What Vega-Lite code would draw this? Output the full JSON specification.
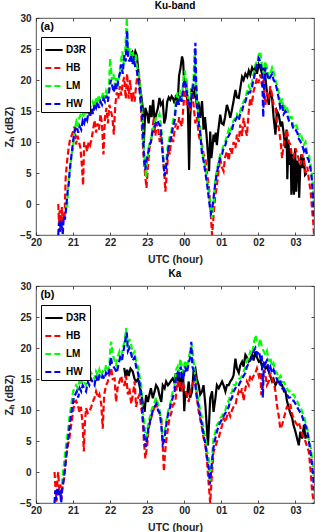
{
"$schema": "https://vega.github.io/schema/vega-lite/v6.json",
"padding": {"left": 4, "top": 0, "right": 5, "bottom": 0},
"background": "white",
"spacing": 3,
"config": {
  "font": "Liberation Sans",
  "view": {"stroke": "#262626", "strokeWidth": 0.8},
  "axis": {"grid": false, "domain": false, "labelFlush": false, "tickSize": -3, "tickColor": "#262626", "tickWidth": 0.8, "labelFont": "Liberation Sans", "labelFontSize": 10, "labelFontWeight": "bold", "labelColor": "#262626", "titleFont": "Liberation Sans", "titleFontSize": 10.5, "titleFontWeight": "bold", "titleColor": "#262626"},
  "axisX": {"labelPadding": 5, "titlePadding": 7},
  "axisY": {"labelPadding": 8, "titlePadding": 5},
  "title": {"font": "Liberation Sans", "fontSize": 10, "fontWeight": "bold", "color": "#000", "offset": 2, "frame": "group"},
  "legend": {"symbolType": "stroke", "symbolSize": 300, "symbolStrokeWidth": 2.2, "labelFont": "Liberation Sans", "labelFontWeight": "bold", "labelFontSize": 10, "labelColor": "#000", "strokeColor": "#000", "fillColor": "#fff", "padding": 3, "rowPadding": 3, "labelOffset": 2},
  "line": {"strokeWidth": 2.2}
},
"resolve": {"scale": {"color": "independent", "strokeDash": "independent"}, "legend": {"color": "independent", "strokeDash": "independent"}},
"datasets": {
"a_D3R": [{"t":22.55,"z":24.0},{"t":22.6,"z":24.5},{"t":22.64,"z":23.5},{"t":22.68,"z":24.6},{"t":22.72,"z":24.0},{"t":22.76,"z":21.5},{"t":22.8,"z":19.2},{"t":22.85,"z":17.0},{"t":22.88,"z":15.5},{"t":22.91,"z":9.8},{"t":22.95,"z":15.5},{"t":23.0,"z":14.5},{"t":23.04,"z":13.0},{"t":23.08,"z":15.9},{"t":23.12,"z":14.0},{"t":23.16,"z":16.8},{"t":23.2,"z":13.4},{"t":23.24,"z":14.4},{"t":23.29,"z":15.5},{"t":23.33,"z":17.1},{"t":23.37,"z":16.0},{"t":23.42,"z":16.5},{"t":23.46,"z":13.0},{"t":23.5,"z":14.0},{"t":23.54,"z":16.5},{"t":23.58,"z":17.2},{"t":23.62,"z":16.8},{"t":23.66,"z":17.4},{"t":23.7,"z":17.0},{"t":23.74,"z":16.2},{"t":23.78,"z":17.6},{"t":23.82,"z":16.0},{"t":23.86,"z":20.7},{"t":23.9,"z":22.0},{"t":23.94,"z":23.8},{"t":23.97,"z":23.0},{"t":24.0,"z":19.2},{"t":24.05,"z":20.0},{"t":24.1,"z":15.0},{"t":24.13,"z":5.5},{"t":24.16,"z":14.0},{"t":24.2,"z":18.7},{"t":24.25,"z":17.0},{"t":24.3,"z":19.0},{"t":24.34,"z":15.5},{"t":24.38,"z":16.5},{"t":24.43,"z":13.9},{"t":24.48,"z":16.6},{"t":24.52,"z":12.0},{"t":24.56,"z":14.0},{"t":24.6,"z":11.2},{"t":24.64,"z":8.0},{"t":24.67,"z":5.3},{"t":24.7,"z":11.7},{"t":24.73,"z":7.4},{"t":24.76,"z":9.0},{"t":24.79,"z":11.2},{"t":24.82,"z":10.0},{"t":24.85,"z":11.5},{"t":24.88,"z":9.5},{"t":24.92,"z":12.0},{"t":24.97,"z":14.4},{"t":25.01,"z":13.0},{"t":25.06,"z":12.8},{"t":25.1,"z":14.0},{"t":25.15,"z":16.0},{"t":25.2,"z":15.0},{"t":25.24,"z":13.9},{"t":25.28,"z":15.0},{"t":25.33,"z":16.6},{"t":25.38,"z":18.4},{"t":25.42,"z":17.2},{"t":25.47,"z":17.1},{"t":25.52,"z":19.0},{"t":25.56,"z":20.5},{"t":25.6,"z":20.0},{"t":25.65,"z":21.0},{"t":25.7,"z":20.5},{"t":25.74,"z":21.5},{"t":25.78,"z":20.8},{"t":25.83,"z":22.0},{"t":25.87,"z":21.5},{"t":25.92,"z":22.0},{"t":25.96,"z":21.0},{"t":26.01,"z":22.5},{"t":26.05,"z":22.0},{"t":26.1,"z":21.0},{"t":26.14,"z":22.0},{"t":26.19,"z":20.3},{"t":26.23,"z":18.0},{"t":26.28,"z":16.0},{"t":26.32,"z":18.5},{"t":26.37,"z":17.0},{"t":26.41,"z":14.0},{"t":26.46,"z":11.2},{"t":26.5,"z":15.0},{"t":26.55,"z":14.4},{"t":26.6,"z":12.5},{"t":26.64,"z":13.3},{"t":26.69,"z":11.0},{"t":26.73,"z":9.0},{"t":26.76,"z":12.0},{"t":26.78,"z":4.0},{"t":26.81,"z":10.0},{"t":26.84,"z":6.3},{"t":26.87,"z":9.0},{"t":26.89,"z":1.5},{"t":26.92,"z":8.0},{"t":26.94,"z":4.0},{"t":26.96,"z":1.5},{"t":26.99,"z":9.0},{"t":27.02,"z":2.0},{"t":27.05,"z":7.0},{"t":27.08,"z":6.0},{"t":27.1,"z":1.0},{"t":27.13,"z":6.0},{"t":27.16,"z":8.0},{"t":27.19,"z":5.8},{"t":27.22,"z":7.5},{"t":27.26,"z":4.7},{"t":27.3,"z":5.0}],
"a_HB": [{"t":20.6,"z":0.0},{"t":20.62,"z":-3.0},{"t":20.64,"z":-1.0},{"t":20.66,"z":-4.5},{"t":20.68,"z":-2.0},{"t":20.7,"z":-0.5},{"t":20.72,"z":-3.5},{"t":20.74,"z":-1.5},{"t":20.77,"z":-2.5},{"t":20.8,"z":4.2},{"t":20.84,"z":7.0},{"t":20.88,"z":9.0},{"t":20.92,"z":10.5},{"t":20.96,"z":11.0},{"t":21.0,"z":11.7},{"t":21.04,"z":12.5},{"t":21.08,"z":9.6},{"t":21.12,"z":11.0},{"t":21.16,"z":10.0},{"t":21.2,"z":9.0},{"t":21.24,"z":6.0},{"t":21.27,"z":3.0},{"t":21.3,"z":10.0},{"t":21.34,"z":9.5},{"t":21.38,"z":8.5},{"t":21.42,"z":10.0},{"t":21.46,"z":9.5},{"t":21.5,"z":10.5},{"t":21.54,"z":12.0},{"t":21.58,"z":13.5},{"t":21.62,"z":11.5},{"t":21.66,"z":13.0},{"t":21.7,"z":12.0},{"t":21.74,"z":14.5},{"t":21.78,"z":13.0},{"t":21.82,"z":8.0},{"t":21.86,"z":14.0},{"t":21.9,"z":15.5},{"t":21.94,"z":13.0},{"t":21.98,"z":16.0},{"t":22.02,"z":15.0},{"t":22.06,"z":14.0},{"t":22.1,"z":11.2},{"t":22.14,"z":16.0},{"t":22.18,"z":18.0},{"t":22.22,"z":17.0},{"t":22.26,"z":19.0},{"t":22.3,"z":17.5},{"t":22.34,"z":19.5},{"t":22.38,"z":20.5},{"t":22.42,"z":17.0},{"t":22.46,"z":21.0},{"t":22.5,"z":17.0},{"t":22.54,"z":20.0},{"t":22.58,"z":16.5},{"t":22.62,"z":18.0},{"t":22.66,"z":16.5},{"t":22.7,"z":19.0},{"t":22.74,"z":21.0},{"t":22.78,"z":20.9},{"t":22.82,"z":17.0},{"t":22.86,"z":12.0},{"t":22.9,"z":8.0},{"t":22.94,"z":5.0},{"t":22.98,"z":2.6},{"t":23.02,"z":6.0},{"t":23.06,"z":9.0},{"t":23.1,"z":10.0},{"t":23.14,"z":12.0},{"t":23.18,"z":14.0},{"t":23.22,"z":11.0},{"t":23.26,"z":13.0},{"t":23.3,"z":12.0},{"t":23.34,"z":10.0},{"t":23.38,"z":11.5},{"t":23.42,"z":8.0},{"t":23.46,"z":5.0},{"t":23.49,"z":2.0},{"t":23.53,"z":5.0},{"t":23.57,"z":9.0},{"t":23.61,"z":8.0},{"t":23.65,"z":11.0},{"t":23.7,"z":10.0},{"t":23.74,"z":12.0},{"t":23.78,"z":13.0},{"t":23.82,"z":12.0},{"t":23.86,"z":14.0},{"t":23.9,"z":13.0},{"t":23.94,"z":12.5},{"t":23.98,"z":16.0},{"t":24.03,"z":19.2},{"t":24.07,"z":16.0},{"t":24.12,"z":17.0},{"t":24.16,"z":15.0},{"t":24.21,"z":18.2},{"t":24.25,"z":16.0},{"t":24.3,"z":13.0},{"t":24.34,"z":14.0},{"t":24.39,"z":11.2},{"t":24.43,"z":10.0},{"t":24.48,"z":9.6},{"t":24.52,"z":8.0},{"t":24.57,"z":7.4},{"t":24.61,"z":5.0},{"t":24.66,"z":3.1},{"t":24.7,"z":-0.1},{"t":24.73,"z":-3.0},{"t":24.75,"z":-5.0},{"t":24.79,"z":-2.0},{"t":24.83,"z":1.0},{"t":24.88,"z":3.0},{"t":24.92,"z":5.0},{"t":24.97,"z":7.4},{"t":25.01,"z":6.0},{"t":25.06,"z":5.3},{"t":25.1,"z":7.5},{"t":25.15,"z":8.5},{"t":25.2,"z":7.0},{"t":25.24,"z":9.0},{"t":25.28,"z":8.0},{"t":25.33,"z":10.0},{"t":25.38,"z":9.0},{"t":25.42,"z":11.2},{"t":25.47,"z":10.0},{"t":25.51,"z":12.8},{"t":25.56,"z":11.0},{"t":25.6,"z":13.9},{"t":25.65,"z":12.0},{"t":25.69,"z":11.0},{"t":25.74,"z":15.0},{"t":25.78,"z":17.1},{"t":25.82,"z":16.0},{"t":25.87,"z":18.2},{"t":25.91,"z":19.0},{"t":25.96,"z":20.3},{"t":26.0,"z":19.5},{"t":26.05,"z":20.9},{"t":26.1,"z":19.0},{"t":26.14,"z":20.0},{"t":26.19,"z":16.0},{"t":26.23,"z":18.0},{"t":26.28,"z":17.0},{"t":26.32,"z":19.0},{"t":26.37,"z":17.6},{"t":26.41,"z":16.0},{"t":26.46,"z":15.5},{"t":26.5,"z":13.0},{"t":26.55,"z":12.3},{"t":26.6,"z":10.0},{"t":26.64,"z":7.4},{"t":26.68,"z":9.5},{"t":26.73,"z":11.0},{"t":26.77,"z":12.0},{"t":26.82,"z":10.0},{"t":26.86,"z":9.6},{"t":26.9,"z":8.0},{"t":26.95,"z":7.5},{"t":27.0,"z":9.0},{"t":27.05,"z":8.0},{"t":27.1,"z":7.0},{"t":27.14,"z":6.3},{"t":27.18,"z":8.0},{"t":27.23,"z":7.0},{"t":27.27,"z":5.0},{"t":27.32,"z":6.0},{"t":27.36,"z":4.0},{"t":27.41,"z":2.0},{"t":27.45,"z":-1.0},{"t":27.48,"z":-3.0},{"t":27.5,"z":-5.0}],
"a_LM": [{"t":20.8,"z":-1.0},{"t":20.82,"z":0.0},{"t":20.84,"z":-0.5},{"t":20.86,"z":2.0},{"t":20.88,"z":4.0},{"t":20.9,"z":4.5},{"t":20.93,"z":6.3},{"t":20.96,"z":8.0},{"t":21.0,"z":9.0},{"t":21.03,"z":11.7},{"t":21.06,"z":12.5},{"t":21.09,"z":13.3},{"t":21.13,"z":12.5},{"t":21.17,"z":13.9},{"t":21.21,"z":14.5},{"t":21.25,"z":15.0},{"t":21.29,"z":14.0},{"t":21.33,"z":15.5},{"t":21.37,"z":14.5},{"t":21.41,"z":16.6},{"t":21.45,"z":15.0},{"t":21.49,"z":16.0},{"t":21.53,"z":16.5},{"t":21.57,"z":15.5},{"t":21.61,"z":17.1},{"t":21.65,"z":16.0},{"t":21.69,"z":17.6},{"t":21.73,"z":16.5},{"t":21.77,"z":17.0},{"t":21.81,"z":18.0},{"t":21.85,"z":17.0},{"t":21.89,"z":18.2},{"t":21.93,"z":17.5},{"t":21.97,"z":19.2},{"t":22.0,"z":23.5},{"t":22.02,"z":22.0},{"t":22.05,"z":20.0},{"t":22.09,"z":21.0},{"t":22.13,"z":19.0},{"t":22.17,"z":20.3},{"t":22.21,"z":19.0},{"t":22.25,"z":20.9},{"t":22.29,"z":23.0},{"t":22.33,"z":24.6},{"t":22.37,"z":22.5},{"t":22.41,"z":25.0},{"t":22.45,"z":30.0},{"t":22.47,"z":25.0},{"t":22.5,"z":24.1},{"t":22.53,"z":25.2},{"t":22.57,"z":23.0},{"t":22.61,"z":24.5},{"t":22.65,"z":23.0},{"t":22.69,"z":24.1},{"t":22.73,"z":22.0},{"t":22.77,"z":21.0},{"t":22.8,"z":19.2},{"t":22.84,"z":16.6},{"t":22.88,"z":13.9},{"t":22.91,"z":9.0},{"t":22.94,"z":6.9},{"t":22.97,"z":4.2},{"t":23.0,"z":7.0},{"t":23.03,"z":8.5},{"t":23.07,"z":10.0},{"t":23.11,"z":10.6},{"t":23.15,"z":12.0},{"t":23.2,"z":12.8},{"t":23.24,"z":14.0},{"t":23.29,"z":13.9},{"t":23.33,"z":14.5},{"t":23.38,"z":12.3},{"t":23.42,"z":8.5},{"t":23.46,"z":5.3},{"t":23.5,"z":6.3},{"t":23.53,"z":8.0},{"t":23.56,"z":9.6},{"t":23.61,"z":11.0},{"t":23.65,"z":11.7},{"t":23.7,"z":13.5},{"t":23.74,"z":14.4},{"t":23.78,"z":17.0},{"t":23.82,"z":18.0},{"t":23.86,"z":17.0},{"t":23.9,"z":18.0},{"t":23.94,"z":17.5},{"t":23.98,"z":20.3},{"t":24.02,"z":21.5},{"t":24.07,"z":19.0},{"t":24.11,"z":17.0},{"t":24.16,"z":16.6},{"t":24.2,"z":18.5},{"t":24.25,"z":20.0},{"t":24.28,"z":25.0},{"t":24.31,"z":19.0},{"t":24.34,"z":17.0},{"t":24.38,"z":14.0},{"t":24.43,"z":12.3},{"t":24.48,"z":8.5},{"t":24.52,"z":7.5},{"t":24.57,"z":5.8},{"t":24.61,"z":4.0},{"t":24.66,"z":2.0},{"t":24.7,"z":0.0},{"t":24.73,"z":-1.0},{"t":24.75,"z":-2.3},{"t":24.79,"z":0.0},{"t":24.84,"z":4.2},{"t":24.88,"z":5.5},{"t":24.93,"z":6.9},{"t":24.97,"z":8.0},{"t":25.02,"z":8.5},{"t":25.06,"z":9.5},{"t":25.11,"z":10.1},{"t":25.15,"z":11.0},{"t":25.2,"z":12.0},{"t":25.24,"z":11.5},{"t":25.29,"z":12.8},{"t":25.33,"z":13.5},{"t":25.38,"z":13.9},{"t":25.42,"z":14.5},{"t":25.47,"z":14.0},{"t":25.51,"z":15.0},{"t":25.56,"z":16.0},{"t":25.6,"z":16.5},{"t":25.65,"z":17.1},{"t":25.69,"z":18.0},{"t":25.74,"z":19.0},{"t":25.78,"z":18.5},{"t":25.83,"z":19.8},{"t":25.87,"z":21.0},{"t":25.92,"z":22.5},{"t":25.96,"z":23.0},{"t":26.01,"z":24.1},{"t":26.05,"z":24.6},{"t":26.1,"z":22.0},{"t":26.14,"z":21.0},{"t":26.19,"z":23.0},{"t":26.23,"z":22.0},{"t":26.28,"z":20.5},{"t":26.32,"z":21.0},{"t":26.37,"z":22.0},{"t":26.41,"z":21.4},{"t":26.46,"z":20.0},{"t":26.5,"z":19.2},{"t":26.55,"z":18.0},{"t":26.59,"z":16.0},{"t":26.64,"z":17.0},{"t":26.68,"z":15.0},{"t":26.73,"z":16.0},{"t":26.77,"z":15.5},{"t":26.82,"z":14.5},{"t":26.86,"z":13.9},{"t":26.9,"z":14.0},{"t":26.95,"z":12.5},{"t":27.0,"z":13.0},{"t":27.05,"z":12.3},{"t":27.09,"z":11.0},{"t":27.14,"z":11.5},{"t":27.18,"z":10.5},{"t":27.23,"z":9.6},{"t":27.27,"z":10.0},{"t":27.32,"z":8.0},{"t":27.36,"z":8.0},{"t":27.41,"z":6.3},{"t":27.44,"z":5.0},{"t":27.47,"z":3.1},{"t":27.5,"z":-0.1}],
"a_HW": [{"t":20.6,"z":-5.0},{"t":20.62,"z":-3.0},{"t":20.64,"z":-4.5},{"t":20.66,"z":-2.5},{"t":20.68,"z":-4.0},{"t":20.7,"z":-3.0},{"t":20.72,"z":-5.0},{"t":20.75,"z":-2.0},{"t":20.78,"z":-2.5},{"t":20.8,"z":-1.5},{"t":20.83,"z":0.5},{"t":20.86,"z":2.5},{"t":20.88,"z":3.0},{"t":20.91,"z":5.5},{"t":20.94,"z":7.0},{"t":20.97,"z":8.5},{"t":21.0,"z":10.0},{"t":21.03,"z":11.5},{"t":21.06,"z":12.0},{"t":21.1,"z":12.5},{"t":21.14,"z":11.5},{"t":21.18,"z":12.5},{"t":21.22,"z":12.0},{"t":21.26,"z":13.5},{"t":21.3,"z":13.0},{"t":21.34,"z":14.0},{"t":21.38,"z":13.5},{"t":21.42,"z":15.0},{"t":21.46,"z":14.0},{"t":21.5,"z":15.5},{"t":21.54,"z":14.5},{"t":21.58,"z":16.0},{"t":21.62,"z":15.5},{"t":21.66,"z":16.5},{"t":21.7,"z":15.5},{"t":21.74,"z":16.5},{"t":21.78,"z":16.0},{"t":21.82,"z":17.0},{"t":21.86,"z":16.5},{"t":21.9,"z":17.5},{"t":21.94,"z":16.5},{"t":21.98,"z":18.5},{"t":22.02,"z":20.0},{"t":22.06,"z":19.0},{"t":22.1,"z":18.0},{"t":22.14,"z":19.5},{"t":22.18,"z":18.5},{"t":22.22,"z":20.0},{"t":22.26,"z":21.0},{"t":22.3,"z":22.5},{"t":22.34,"z":21.0},{"t":22.38,"z":24.0},{"t":22.42,"z":23.0},{"t":22.46,"z":28.0},{"t":22.48,"z":24.0},{"t":22.52,"z":23.0},{"t":22.56,"z":24.0},{"t":22.6,"z":22.5},{"t":22.64,"z":23.5},{"t":22.68,"z":22.0},{"t":22.72,"z":21.5},{"t":22.76,"z":20.0},{"t":22.8,"z":18.0},{"t":22.84,"z":15.5},{"t":22.88,"z":12.5},{"t":22.91,"z":8.0},{"t":22.95,"z":5.5},{"t":22.98,"z":7.0},{"t":23.02,"z":8.0},{"t":23.06,"z":9.5},{"t":23.1,"z":10.0},{"t":23.14,"z":11.5},{"t":23.18,"z":12.0},{"t":23.23,"z":13.0},{"t":23.27,"z":13.5},{"t":23.31,"z":13.0},{"t":23.36,"z":12.5},{"t":23.4,"z":9.5},{"t":23.44,"z":6.5},{"t":23.47,"z":4.5},{"t":23.5,"z":5.5},{"t":23.53,"z":7.0},{"t":23.57,"z":9.0},{"t":23.61,"z":10.0},{"t":23.65,"z":11.0},{"t":23.7,"z":12.5},{"t":23.74,"z":13.5},{"t":23.78,"z":16.0},{"t":23.82,"z":17.0},{"t":23.86,"z":16.0},{"t":23.9,"z":17.5},{"t":23.94,"z":16.5},{"t":23.98,"z":19.5},{"t":24.02,"z":20.0},{"t":24.07,"z":18.0},{"t":24.11,"z":16.5},{"t":24.16,"z":15.5},{"t":24.2,"z":17.5},{"t":24.24,"z":19.0},{"t":24.28,"z":21.0},{"t":24.3,"z":26.0},{"t":24.32,"z":20.0},{"t":24.35,"z":16.0},{"t":24.39,"z":13.0},{"t":24.43,"z":11.5},{"t":24.48,"z":8.0},{"t":24.52,"z":7.0},{"t":24.57,"z":5.0},{"t":24.61,"z":3.5},{"t":24.65,"z":1.5},{"t":24.69,"z":-0.5},{"t":24.72,"z":-1.5},{"t":24.75,"z":-1.0},{"t":24.79,"z":1.0},{"t":24.84,"z":3.5},{"t":24.88,"z":5.0},{"t":24.93,"z":6.5},{"t":24.97,"z":7.5},{"t":25.02,"z":8.0},{"t":25.06,"z":9.0},{"t":25.11,"z":9.5},{"t":25.15,"z":10.5},{"t":25.2,"z":11.0},{"t":25.24,"z":11.5},{"t":25.29,"z":12.0},{"t":25.33,"z":13.0},{"t":25.38,"z":13.5},{"t":25.42,"z":14.0},{"t":25.47,"z":13.5},{"t":25.51,"z":14.5},{"t":25.56,"z":15.0},{"t":25.6,"z":16.0},{"t":25.65,"z":16.5},{"t":25.69,"z":17.5},{"t":25.74,"z":18.0},{"t":25.78,"z":18.0},{"t":25.83,"z":19.0},{"t":25.87,"z":20.0},{"t":25.92,"z":21.5},{"t":25.96,"z":22.5},{"t":26.01,"z":23.5},{"t":26.05,"z":23.0},{"t":26.1,"z":21.5},{"t":26.13,"z":14.0},{"t":26.16,"z":20.0},{"t":26.19,"z":22.0},{"t":26.23,"z":21.0},{"t":26.28,"z":20.0},{"t":26.32,"z":20.5},{"t":26.37,"z":21.0},{"t":26.41,"z":20.0},{"t":26.46,"z":19.5},{"t":26.5,"z":18.5},{"t":26.55,"z":17.0},{"t":26.59,"z":15.5},{"t":26.64,"z":16.0},{"t":26.68,"z":14.5},{"t":26.73,"z":15.0},{"t":26.77,"z":14.5},{"t":26.82,"z":13.5},{"t":26.86,"z":13.0},{"t":26.9,"z":13.0},{"t":26.95,"z":12.0},{"t":27.0,"z":12.0},{"t":27.05,"z":11.5},{"t":27.09,"z":10.5},{"t":27.14,"z":10.0},{"t":27.18,"z":9.5},{"t":27.23,"z":8.5},{"t":27.27,"z":9.0},{"t":27.32,"z":7.5},{"t":27.36,"z":7.0},{"t":27.41,"z":5.5},{"t":27.44,"z":4.0},{"t":27.47,"z":1.5},{"t":27.5,"z":-2.0}],
"b_D3R": [{"t":22.38,"z":16.8},{"t":22.42,"z":15.2},{"t":22.46,"z":16.5},{"t":22.5,"z":15.5},{"t":22.55,"z":16.7},{"t":22.61,"z":16.2},{"t":22.66,"z":15.0},{"t":22.7,"z":14.6},{"t":22.75,"z":15.0},{"t":22.79,"z":14.0},{"t":22.84,"z":12.5},{"t":22.88,"z":11.3},{"t":22.93,"z":9.7},{"t":22.97,"z":12.4},{"t":23.02,"z":11.3},{"t":23.06,"z":12.5},{"t":23.1,"z":13.5},{"t":23.15,"z":11.9},{"t":23.2,"z":13.0},{"t":23.24,"z":14.0},{"t":23.29,"z":13.5},{"t":23.33,"z":12.4},{"t":23.38,"z":11.3},{"t":23.42,"z":14.0},{"t":23.47,"z":13.5},{"t":23.51,"z":14.6},{"t":23.56,"z":14.0},{"t":23.6,"z":14.3},{"t":23.65,"z":14.8},{"t":23.69,"z":15.1},{"t":23.73,"z":14.5},{"t":23.77,"z":15.9},{"t":23.81,"z":15.0},{"t":23.85,"z":15.8},{"t":23.89,"z":13.0},{"t":23.94,"z":16.2},{"t":23.97,"z":15.5},{"t":24.0,"z":9.8},{"t":24.03,"z":13.0},{"t":24.07,"z":12.0},{"t":24.12,"z":14.6},{"t":24.16,"z":12.0},{"t":24.21,"z":13.0},{"t":24.25,"z":16.2},{"t":24.3,"z":16.7},{"t":24.34,"z":15.0},{"t":24.39,"z":14.0},{"t":24.43,"z":12.5},{"t":24.48,"z":13.0},{"t":24.52,"z":14.0},{"t":24.57,"z":10.8},{"t":24.61,"z":7.0},{"t":24.64,"z":4.3},{"t":24.67,"z":8.0},{"t":24.7,"z":11.9},{"t":24.75,"z":13.0},{"t":24.79,"z":9.7},{"t":24.84,"z":11.9},{"t":24.88,"z":14.0},{"t":24.93,"z":13.5},{"t":24.97,"z":14.0},{"t":25.02,"z":14.6},{"t":25.06,"z":14.0},{"t":25.11,"z":13.0},{"t":25.15,"z":14.0},{"t":25.2,"z":14.0},{"t":25.24,"z":14.6},{"t":25.29,"z":15.0},{"t":25.33,"z":15.6},{"t":25.38,"z":18.3},{"t":25.42,"z":16.7},{"t":25.47,"z":16.0},{"t":25.51,"z":17.2},{"t":25.56,"z":17.8},{"t":25.6,"z":17.0},{"t":25.65,"z":18.9},{"t":25.69,"z":18.5},{"t":25.74,"z":17.8},{"t":25.78,"z":18.2},{"t":25.83,"z":18.9},{"t":25.87,"z":18.0},{"t":25.92,"z":19.4},{"t":25.96,"z":18.5},{"t":26.01,"z":17.8},{"t":26.05,"z":18.0},{"t":26.1,"z":17.0},{"t":26.14,"z":17.5},{"t":26.19,"z":16.7},{"t":26.23,"z":17.0},{"t":26.28,"z":16.2},{"t":26.32,"z":15.5},{"t":26.37,"z":14.6},{"t":26.41,"z":15.0},{"t":26.46,"z":14.0},{"t":26.5,"z":14.5},{"t":26.55,"z":14.6},{"t":26.6,"z":14.0},{"t":26.64,"z":14.0},{"t":26.69,"z":13.0},{"t":26.73,"z":13.0},{"t":26.77,"z":11.5},{"t":26.82,"z":10.3},{"t":26.86,"z":9.5},{"t":26.91,"z":8.7},{"t":26.95,"z":7.5},{"t":27.0,"z":6.5},{"t":27.04,"z":5.5},{"t":27.09,"z":4.3},{"t":27.13,"z":6.5},{"t":27.18,"z":5.4},{"t":27.23,"z":7.6},{"t":27.27,"z":5.4},{"t":27.3,"z":6.0}],
"b_HB": [{"t":20.5,"z":0.0},{"t":20.52,"z":-2.0},{"t":20.55,"z":-4.8},{"t":20.58,"z":-1.0},{"t":20.6,"z":0.0},{"t":20.63,"z":-3.0},{"t":20.66,"z":-2.0},{"t":20.68,"z":-4.5},{"t":20.72,"z":-2.0},{"t":20.76,"z":-1.0},{"t":20.81,"z":2.2},{"t":20.86,"z":4.3},{"t":20.9,"z":5.4},{"t":20.95,"z":7.6},{"t":21.0,"z":9.7},{"t":21.04,"z":11.3},{"t":21.08,"z":11.5},{"t":21.13,"z":10.8},{"t":21.17,"z":9.7},{"t":21.21,"z":10.5},{"t":21.26,"z":7.6},{"t":21.29,"z":3.3},{"t":21.32,"z":8.0},{"t":21.35,"z":10.3},{"t":21.4,"z":9.5},{"t":21.44,"z":9.7},{"t":21.49,"z":10.5},{"t":21.53,"z":11.3},{"t":21.58,"z":12.0},{"t":21.62,"z":13.0},{"t":21.67,"z":12.0},{"t":21.71,"z":12.5},{"t":21.76,"z":11.0},{"t":21.8,"z":7.0},{"t":21.84,"z":12.5},{"t":21.89,"z":14.0},{"t":21.93,"z":14.5},{"t":21.98,"z":15.6},{"t":22.03,"z":16.7},{"t":22.07,"z":15.0},{"t":22.12,"z":15.1},{"t":22.16,"z":11.3},{"t":22.2,"z":13.5},{"t":22.25,"z":14.6},{"t":22.3,"z":15.5},{"t":22.34,"z":14.0},{"t":22.39,"z":14.0},{"t":22.43,"z":15.5},{"t":22.48,"z":12.5},{"t":22.52,"z":13.5},{"t":22.57,"z":11.0},{"t":22.61,"z":12.4},{"t":22.66,"z":14.6},{"t":22.7,"z":10.5},{"t":22.75,"z":11.9},{"t":22.79,"z":12.5},{"t":22.84,"z":10.3},{"t":22.88,"z":8.7},{"t":22.91,"z":4.9},{"t":22.95,"z":2.2},{"t":23.0,"z":4.3},{"t":23.03,"z":6.5},{"t":23.06,"z":7.6},{"t":23.1,"z":8.5},{"t":23.15,"z":9.7},{"t":23.2,"z":10.5},{"t":23.24,"z":11.3},{"t":23.29,"z":10.0},{"t":23.33,"z":9.5},{"t":23.38,"z":8.7},{"t":23.42,"z":4.3},{"t":23.45,"z":0.1},{"t":23.48,"z":3.0},{"t":23.51,"z":4.9},{"t":23.56,"z":7.0},{"t":23.6,"z":8.7},{"t":23.65,"z":9.5},{"t":23.69,"z":10.8},{"t":23.73,"z":11.0},{"t":23.77,"z":11.9},{"t":23.81,"z":14.6},{"t":23.85,"z":13.5},{"t":23.9,"z":14.5},{"t":23.94,"z":13.0},{"t":23.98,"z":14.0},{"t":24.03,"z":13.0},{"t":24.07,"z":12.5},{"t":24.12,"z":11.3},{"t":24.16,"z":13.0},{"t":24.21,"z":14.0},{"t":24.25,"z":14.5},{"t":24.3,"z":15.6},{"t":24.34,"z":12.0},{"t":24.39,"z":9.7},{"t":24.43,"z":8.5},{"t":24.48,"z":7.0},{"t":24.52,"z":5.5},{"t":24.57,"z":4.3},{"t":24.61,"z":2.2},{"t":24.64,"z":-0.5},{"t":24.66,"z":-2.0},{"t":24.7,"z":-5.0},{"t":24.74,"z":-1.0},{"t":24.79,"z":3.3},{"t":24.84,"z":4.0},{"t":24.88,"z":4.9},{"t":24.93,"z":5.5},{"t":24.97,"z":6.5},{"t":25.02,"z":7.5},{"t":25.06,"z":8.7},{"t":25.11,"z":8.0},{"t":25.15,"z":9.0},{"t":25.2,"z":9.7},{"t":25.24,"z":9.0},{"t":25.29,"z":10.0},{"t":25.33,"z":10.5},{"t":25.38,"z":10.8},{"t":25.42,"z":12.0},{"t":25.47,"z":13.0},{"t":25.51,"z":12.5},{"t":25.56,"z":13.5},{"t":25.6,"z":11.5},{"t":25.65,"z":13.5},{"t":25.69,"z":14.6},{"t":25.74,"z":14.0},{"t":25.78,"z":15.6},{"t":25.83,"z":15.0},{"t":25.87,"z":15.5},{"t":25.92,"z":16.0},{"t":25.96,"z":16.7},{"t":26.01,"z":15.5},{"t":26.05,"z":16.2},{"t":26.08,"z":12.4},{"t":26.12,"z":15.0},{"t":26.16,"z":16.5},{"t":26.19,"z":15.6},{"t":26.23,"z":14.0},{"t":26.28,"z":14.6},{"t":26.32,"z":16.0},{"t":26.37,"z":15.0},{"t":26.41,"z":14.5},{"t":26.46,"z":13.0},{"t":26.5,"z":10.8},{"t":26.55,"z":9.0},{"t":26.59,"z":7.0},{"t":26.64,"z":7.6},{"t":26.68,"z":8.5},{"t":26.73,"z":9.7},{"t":26.77,"z":10.5},{"t":26.82,"z":10.3},{"t":26.86,"z":11.0},{"t":26.9,"z":9.5},{"t":26.95,"z":8.7},{"t":27.0,"z":8.0},{"t":27.05,"z":7.6},{"t":27.09,"z":8.0},{"t":27.14,"z":7.0},{"t":27.18,"z":6.0},{"t":27.23,"z":5.5},{"t":27.27,"z":4.9},{"t":27.32,"z":4.0},{"t":27.36,"z":3.3},{"t":27.41,"z":0.1},{"t":27.45,"z":-3.2},{"t":27.5,"z":-5.0}],
"b_LM": [{"t":20.7,"z":-2.0},{"t":20.73,"z":0.0},{"t":20.77,"z":2.2},{"t":20.81,"z":4.3},{"t":20.86,"z":6.5},{"t":20.9,"z":8.7},{"t":20.95,"z":10.8},{"t":21.0,"z":13.0},{"t":21.04,"z":13.5},{"t":21.08,"z":14.0},{"t":21.13,"z":13.5},{"t":21.17,"z":14.6},{"t":21.21,"z":14.0},{"t":21.26,"z":15.1},{"t":21.3,"z":14.5},{"t":21.35,"z":14.0},{"t":21.4,"z":15.5},{"t":21.44,"z":15.1},{"t":21.49,"z":16.0},{"t":21.53,"z":15.6},{"t":21.58,"z":15.0},{"t":21.62,"z":16.2},{"t":21.67,"z":15.5},{"t":21.71,"z":16.5},{"t":21.76,"z":15.5},{"t":21.8,"z":16.2},{"t":21.85,"z":16.0},{"t":21.89,"z":17.3},{"t":21.94,"z":16.5},{"t":21.98,"z":17.3},{"t":22.01,"z":20.5},{"t":22.03,"z":21.0},{"t":22.07,"z":18.9},{"t":22.12,"z":18.0},{"t":22.16,"z":17.3},{"t":22.2,"z":18.5},{"t":22.25,"z":19.4},{"t":22.3,"z":18.0},{"t":22.34,"z":20.0},{"t":22.39,"z":21.0},{"t":22.43,"z":23.2},{"t":22.46,"z":20.5},{"t":22.48,"z":20.0},{"t":22.52,"z":21.5},{"t":22.57,"z":20.5},{"t":22.61,"z":19.0},{"t":22.66,"z":19.4},{"t":22.7,"z":17.8},{"t":22.75,"z":17.0},{"t":22.79,"z":15.6},{"t":22.84,"z":14.0},{"t":22.88,"z":9.7},{"t":22.93,"z":7.6},{"t":22.97,"z":4.9},{"t":23.0,"z":6.0},{"t":23.02,"z":7.6},{"t":23.06,"z":8.5},{"t":23.1,"z":9.7},{"t":23.15,"z":10.5},{"t":23.2,"z":11.3},{"t":23.24,"z":12.0},{"t":23.29,"z":11.0},{"t":23.33,"z":10.0},{"t":23.38,"z":8.7},{"t":23.42,"z":5.4},{"t":23.46,"z":6.0},{"t":23.51,"z":8.0},{"t":23.56,"z":9.7},{"t":23.6,"z":10.5},{"t":23.65,"z":11.9},{"t":23.69,"z":13.0},{"t":23.74,"z":14.0},{"t":23.78,"z":16.5},{"t":23.82,"z":17.0},{"t":23.86,"z":16.0},{"t":23.89,"z":18.3},{"t":23.94,"z":17.0},{"t":23.98,"z":16.0},{"t":24.02,"z":18.0},{"t":24.07,"z":16.7},{"t":24.12,"z":18.5},{"t":24.16,"z":19.4},{"t":24.21,"z":20.5},{"t":24.25,"z":18.0},{"t":24.3,"z":15.1},{"t":24.34,"z":13.0},{"t":24.39,"z":11.3},{"t":24.43,"z":10.0},{"t":24.48,"z":8.7},{"t":24.52,"z":7.0},{"t":24.57,"z":5.4},{"t":24.61,"z":3.5},{"t":24.66,"z":2.2},{"t":24.7,"z":-1.6},{"t":24.74,"z":1.5},{"t":24.79,"z":5.4},{"t":24.84,"z":6.5},{"t":24.88,"z":7.6},{"t":24.93,"z":8.0},{"t":24.97,"z":8.7},{"t":25.02,"z":9.0},{"t":25.06,"z":9.7},{"t":25.11,"z":10.0},{"t":25.15,"z":10.8},{"t":25.2,"z":11.5},{"t":25.24,"z":12.4},{"t":25.29,"z":13.0},{"t":25.33,"z":14.0},{"t":25.38,"z":14.0},{"t":25.42,"z":14.6},{"t":25.47,"z":15.0},{"t":25.51,"z":15.1},{"t":25.56,"z":15.5},{"t":25.6,"z":16.2},{"t":25.65,"z":17.0},{"t":25.69,"z":17.8},{"t":25.74,"z":18.5},{"t":25.78,"z":19.4},{"t":25.83,"z":19.0},{"t":25.87,"z":20.5},{"t":25.92,"z":22.1},{"t":25.96,"z":21.0},{"t":26.01,"z":20.5},{"t":26.05,"z":21.5},{"t":26.1,"z":20.0},{"t":26.14,"z":19.5},{"t":26.19,"z":18.9},{"t":26.23,"z":19.5},{"t":26.28,"z":17.8},{"t":26.32,"z":18.5},{"t":26.37,"z":17.0},{"t":26.41,"z":17.5},{"t":26.46,"z":16.2},{"t":26.5,"z":16.0},{"t":26.55,"z":15.1},{"t":26.6,"z":15.5},{"t":26.64,"z":14.5},{"t":26.69,"z":14.5},{"t":26.73,"z":14.0},{"t":26.77,"z":13.5},{"t":26.82,"z":13.0},{"t":26.86,"z":13.0},{"t":26.91,"z":12.5},{"t":26.95,"z":12.5},{"t":27.0,"z":11.9},{"t":27.04,"z":11.5},{"t":27.09,"z":10.8},{"t":27.14,"z":10.5},{"t":27.18,"z":9.7},{"t":27.23,"z":9.0},{"t":27.27,"z":8.1},{"t":27.32,"z":7.0},{"t":27.36,"z":5.4},{"t":27.41,"z":4.0},{"t":27.45,"z":2.2},{"t":27.48,"z":0.5},{"t":27.5,"z":-1.0}],
"b_HW": [{"t":20.5,"z":-5.0},{"t":20.52,"z":-3.0},{"t":20.55,"z":-4.5},{"t":20.58,"z":-2.5},{"t":20.62,"z":-4.0},{"t":20.65,"z":-3.0},{"t":20.68,"z":-5.0},{"t":20.7,"z":-3.0},{"t":20.73,"z":-2.0},{"t":20.76,"z":-0.5},{"t":20.79,"z":1.0},{"t":20.82,"z":3.0},{"t":20.86,"z":5.0},{"t":20.9,"z":7.0},{"t":20.94,"z":9.0},{"t":20.98,"z":10.5},{"t":21.02,"z":12.0},{"t":21.06,"z":12.5},{"t":21.1,"z":13.0},{"t":21.14,"z":12.0},{"t":21.18,"z":13.5},{"t":21.22,"z":13.0},{"t":21.26,"z":14.0},{"t":21.3,"z":13.5},{"t":21.35,"z":13.0},{"t":21.4,"z":14.5},{"t":21.44,"z":14.0},{"t":21.49,"z":15.0},{"t":21.53,"z":14.5},{"t":21.58,"z":14.0},{"t":21.62,"z":15.5},{"t":21.67,"z":14.5},{"t":21.71,"z":15.5},{"t":21.76,"z":15.0},{"t":21.8,"z":15.5},{"t":21.85,"z":15.0},{"t":21.89,"z":16.0},{"t":21.94,"z":15.5},{"t":21.98,"z":16.5},{"t":22.02,"z":18.5},{"t":22.05,"z":17.5},{"t":22.09,"z":17.0},{"t":22.14,"z":16.5},{"t":22.18,"z":16.0},{"t":22.23,"z":17.5},{"t":22.27,"z":18.5},{"t":22.32,"z":18.0},{"t":22.36,"z":19.5},{"t":22.4,"z":21.0},{"t":22.45,"z":22.5},{"t":22.48,"z":19.5},{"t":22.52,"z":20.0},{"t":22.57,"z":19.0},{"t":22.61,"z":18.0},{"t":22.66,"z":18.5},{"t":22.7,"z":17.0},{"t":22.75,"z":16.0},{"t":22.79,"z":14.5},{"t":22.84,"z":12.5},{"t":22.88,"z":8.5},{"t":22.92,"z":6.0},{"t":22.96,"z":4.0},{"t":23.0,"z":5.5},{"t":23.03,"z":7.0},{"t":23.07,"z":8.0},{"t":23.11,"z":9.0},{"t":23.16,"z":10.0},{"t":23.2,"z":10.5},{"t":23.25,"z":11.0},{"t":23.29,"z":10.0},{"t":23.34,"z":9.5},{"t":23.38,"z":7.5},{"t":23.42,"z":4.5},{"t":23.46,"z":5.0},{"t":23.5,"z":7.0},{"t":23.55,"z":9.0},{"t":23.6,"z":10.0},{"t":23.64,"z":11.0},{"t":23.69,"z":12.0},{"t":23.74,"z":13.0},{"t":23.78,"z":15.5},{"t":23.82,"z":16.0},{"t":23.86,"z":15.0},{"t":23.9,"z":17.0},{"t":23.94,"z":16.0},{"t":23.98,"z":15.0},{"t":24.02,"z":17.0},{"t":24.07,"z":16.0},{"t":24.12,"z":17.5},{"t":24.16,"z":18.5},{"t":24.19,"z":21.0},{"t":24.22,"z":17.0},{"t":24.27,"z":16.0},{"t":24.3,"z":14.0},{"t":24.34,"z":12.0},{"t":24.39,"z":10.5},{"t":24.43,"z":9.0},{"t":24.48,"z":7.5},{"t":24.52,"z":6.0},{"t":24.57,"z":4.5},{"t":24.61,"z":2.5},{"t":24.66,"z":0.5},{"t":24.69,"z":-2.0},{"t":24.73,"z":0.5},{"t":24.79,"z":4.0},{"t":24.84,"z":5.5},{"t":24.88,"z":6.5},{"t":24.93,"z":7.5},{"t":24.97,"z":8.0},{"t":25.02,"z":8.5},{"t":25.06,"z":9.0},{"t":25.11,"z":9.5},{"t":25.15,"z":10.0},{"t":25.2,"z":10.5},{"t":25.24,"z":11.5},{"t":25.29,"z":12.0},{"t":25.33,"z":13.0},{"t":25.38,"z":13.5},{"t":25.42,"z":14.0},{"t":25.47,"z":14.0},{"t":25.51,"z":14.5},{"t":25.56,"z":15.0},{"t":25.6,"z":15.5},{"t":25.65,"z":16.0},{"t":25.69,"z":17.0},{"t":25.74,"z":17.5},{"t":25.78,"z":18.0},{"t":25.83,"z":18.5},{"t":25.87,"z":19.5},{"t":25.92,"z":20.0},{"t":25.96,"z":19.0},{"t":26.01,"z":19.5},{"t":26.05,"z":18.5},{"t":26.09,"z":19.0},{"t":26.12,"z":12.0},{"t":26.15,"z":18.0},{"t":26.19,"z":17.5},{"t":26.23,"z":18.0},{"t":26.28,"z":16.5},{"t":26.32,"z":17.0},{"t":26.37,"z":16.0},{"t":26.41,"z":16.5},{"t":26.46,"z":15.5},{"t":26.5,"z":15.0},{"t":26.55,"z":14.0},{"t":26.6,"z":14.5},{"t":26.64,"z":13.5},{"t":26.69,"z":13.5},{"t":26.73,"z":13.0},{"t":26.77,"z":12.5},{"t":26.82,"z":12.0},{"t":26.86,"z":12.0},{"t":26.91,"z":11.5},{"t":26.95,"z":11.5},{"t":27.0,"z":11.0},{"t":27.04,"z":10.5},{"t":27.09,"z":10.0},{"t":27.14,"z":9.5},{"t":27.18,"z":9.0},{"t":27.23,"z":8.0},{"t":27.27,"z":7.5},{"t":27.32,"z":6.5},{"t":27.36,"z":5.0},{"t":27.41,"z":3.0},{"t":27.45,"z":1.0},{"t":27.48,"z":-1.0},{"t":27.5,"z":-3.0}]
},
"vconcat": [
{
  "title": {"text": "Ku-band"},
  "width": 278, "height": 217,
  "resolve": {"scale": {"x": "independent", "y": "independent"}},
  "layer": [
    {
      "encoding": {
        "x": {"field": "t", "type": "quantitative", "scale": {"domain": [20, 27.5], "nice": false, "zero": false}, "axis": {"orient": "bottom", "title": "UTC (hour)", "values": [20,21,22,23,24,25,26,27], "labelExpr": "datum.value >= 24 ? '0' + (datum.value - 24) : '' + datum.value"}},
        "y": {"field": "z", "type": "quantitative", "scale": {"domain": [-5, 30], "nice": false, "zero": false}, "axis": {"orient": "left", "title": "Zₕ (dBZ)", "values": [-5,0,5,10,15,20,25,30]}}
      },
      "layer": [
        {"data": {"name": "a_D3R"}, "mark": {"type": "line", "clip": true}, "encoding": {
          "color": {"datum": "D3R", "type": "nominal", "scale": {"domain": ["D3R","HB","LM","HW"], "range": ["#000000","#ff0000","#00ff00","#0000ff"]}, "legend": {"orient": "none", "legendX": 5, "legendY": 19, "title": null}},
          "strokeDash": {"datum": "D3R", "type": "nominal", "scale": {"domain": ["D3R","HB","LM","HW"], "range": [[1,0],[6,3],[6,3],[6,3]]}, "legend": {"orient": "none", "legendX": 5, "legendY": 19, "title": null}}}},
        {"data": {"name": "a_HB"}, "mark": {"type": "line", "clip": true}, "encoding": {"color": {"datum": "HB", "type": "nominal"}, "strokeDash": {"datum": "HB", "type": "nominal"}}},
        {"data": {"name": "a_LM"}, "mark": {"type": "line", "clip": true}, "encoding": {"color": {"datum": "LM", "type": "nominal"}, "strokeDash": {"datum": "LM", "type": "nominal"}}},
        {"data": {"name": "a_HW"}, "mark": {"type": "line", "clip": true}, "encoding": {"color": {"datum": "HW", "type": "nominal"}, "strokeDash": {"datum": "HW", "type": "nominal"}}}
      ]
    },
    {
      "data": {"values": [{"label": "(a)"}]},
      "mark": {"type": "text", "align": "left", "baseline": "middle", "fontWeight": "bold", "fontSize": 11, "font": "Liberation Sans", "color": "#000"},
      "encoding": {
        "x": {"datum": 20.12, "type": "quantitative", "scale": {"domain": [20, 27.5], "nice": false, "zero": false}, "axis": {"orient": "top", "labels": false, "title": null, "values": [20,21,22,23,24,25,26,27]}},
        "y": {"datum": 28.5, "type": "quantitative", "scale": {"domain": [-5, 30], "nice": false, "zero": false}, "axis": {"orient": "right", "labels": false, "title": null, "values": [-5,0,5,10,15,20,25,30]}},
        "text": {"field": "label"}
      }
    }
  ]
},
{
  "title": {"text": "Ka"},
  "width": 278, "height": 217,
  "resolve": {"scale": {"x": "independent", "y": "independent"}},
  "layer": [
    {
      "encoding": {
        "x": {"field": "t", "type": "quantitative", "scale": {"domain": [20, 27.5], "nice": false, "zero": false}, "axis": {"orient": "bottom", "title": "UTC (hour)", "values": [20,21,22,23,24,25,26,27], "labelExpr": "datum.value >= 24 ? '0' + (datum.value - 24) : '' + datum.value"}},
        "y": {"field": "z", "type": "quantitative", "scale": {"domain": [-5, 30], "nice": false, "zero": false}, "axis": {"orient": "left", "title": "Zₕ (dBZ)", "values": [-5,0,5,10,15,20,25,30]}}
      },
      "layer": [
        {"data": {"name": "b_D3R"}, "mark": {"type": "line", "clip": true}, "encoding": {
          "color": {"datum": "D3R", "type": "nominal", "scale": {"domain": ["D3R","HB","LM","HW"], "range": ["#000000","#ff0000","#00ff00","#0000ff"]}, "legend": {"orient": "none", "legendX": 5, "legendY": 19, "title": null}},
          "strokeDash": {"datum": "D3R", "type": "nominal", "scale": {"domain": ["D3R","HB","LM","HW"], "range": [[1,0],[6,3],[6,3],[6,3]]}, "legend": {"orient": "none", "legendX": 5, "legendY": 19, "title": null}}}},
        {"data": {"name": "b_HB"}, "mark": {"type": "line", "clip": true}, "encoding": {"color": {"datum": "HB", "type": "nominal"}, "strokeDash": {"datum": "HB", "type": "nominal"}}},
        {"data": {"name": "b_LM"}, "mark": {"type": "line", "clip": true}, "encoding": {"color": {"datum": "LM", "type": "nominal"}, "strokeDash": {"datum": "LM", "type": "nominal"}}},
        {"data": {"name": "b_HW"}, "mark": {"type": "line", "clip": true}, "encoding": {"color": {"datum": "HW", "type": "nominal"}, "strokeDash": {"datum": "HW", "type": "nominal"}}}
      ]
    },
    {
      "data": {"values": [{"label": "(b)"}]},
      "mark": {"type": "text", "align": "left", "baseline": "middle", "fontWeight": "bold", "fontSize": 11, "font": "Liberation Sans", "color": "#000"},
      "encoding": {
        "x": {"datum": 20.12, "type": "quantitative", "scale": {"domain": [20, 27.5], "nice": false, "zero": false}, "axis": {"orient": "top", "labels": false, "title": null, "values": [20,21,22,23,24,25,26,27]}},
        "y": {"datum": 28.5, "type": "quantitative", "scale": {"domain": [-5, 30], "nice": false, "zero": false}, "axis": {"orient": "right", "labels": false, "title": null, "values": [-5,0,5,10,15,20,25,30]}},
        "text": {"field": "label"}
      }
    }
  ]
}
]
}
